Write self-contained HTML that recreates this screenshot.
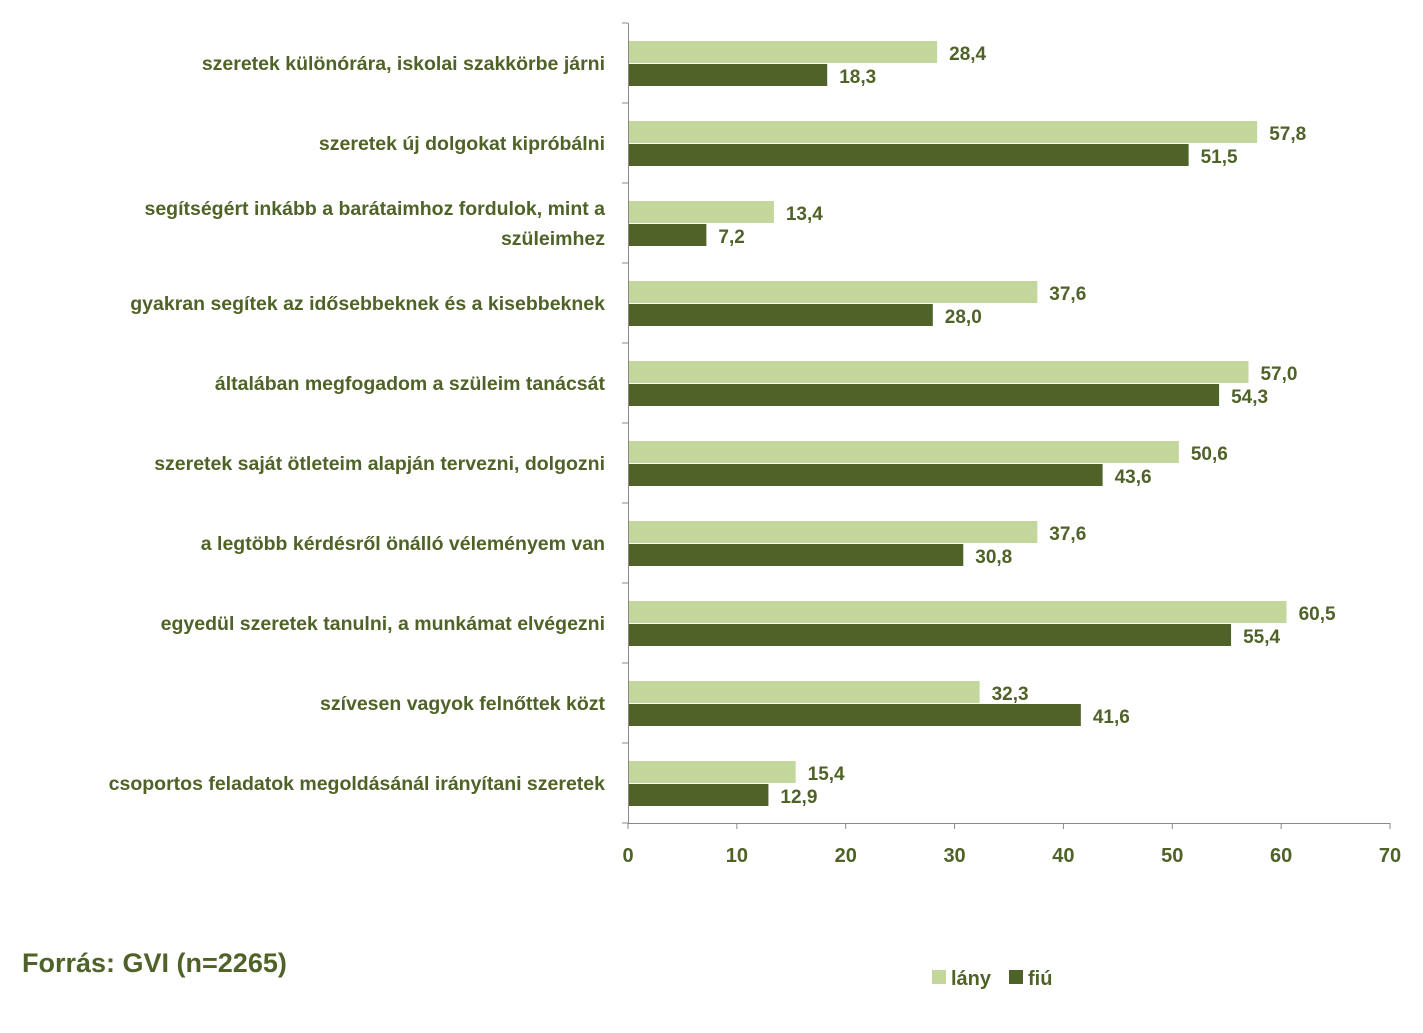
<!DOCTYPE html>
<html><head><meta charset="utf-8"><style>
body{margin:0;background:#fff;}
svg{display:block;font-family:"Liberation Sans",sans-serif;font-weight:bold;}
</style></head><body>
<svg id="chart" width="1423" height="1033">
<text x="22" y="972" font-size="27" fill="#4f6228">Forrás: GVI (n=2265)</text>
<g>
<rect x="932" y="970" width="14" height="14" fill="#c3d69b"></rect>
<text x="951" y="985" font-size="20" fill="#4f6228">lány</text>
<rect x="1009" y="970" width="14" height="14" fill="#4f6228"></rect>
<text x="1028" y="985" font-size="20" fill="#4f6228">fiú</text>
</g>
</svg>
<script>
const categories = [
 ["szeretek különórára, iskolai szakkörbe járni"],
 ["szeretek új dolgokat kipróbálni"],
 ["segítségért inkább a barátaimhoz fordulok, mint a","szüleimhez"],
 ["gyakran segítek az idősebbeknek és a kisebbeknek"],
 ["általában megfogadom a szüleim tanácsát"],
 ["szeretek saját ötleteim alapján tervezni, dolgozni"],
 ["a legtöbb kérdésről önálló véleményem van"],
 ["egyedül szeretek tanulni, a munkámat elvégezni"],
 ["szívesen vagyok felnőttek közt"],
 ["csoportos feladatok megoldásánál irányítani szeretek"]
];
const lany = [28.4,57.8,13.4,37.6,57.0,50.6,37.6,60.5,32.3,15.4];
const fiu = [18.3,51.5,7.2,28.0,54.3,43.6,30.8,55.4,41.6,12.9];
const ticks = [0,10,20,30,40,50,60,70];

const NS="http://www.w3.org/2000/svg";
const svg=document.getElementById('chart');
const x0=628,x1=1390,yTop=23,band=80;
const xs=v=>x0+(v-0)/(70-0)*(x1-x0);
const yb=i=>yTop+i*band;
function el(t,a){const e=document.createElementNS(NS,t);for(const k in a)e.setAttribute(k,a[k]);svg.appendChild(e);return e;}
const C="#4f6228";
categories.forEach((lab,i)=>{
 const y=yb(i);
 const b1=el('rect',{x:x0,y:y+18,width:xs(lany[i])-x0,height:22,fill:'#c3d69b'});
 
 
 const b2=el('rect',{x:x0,y:y+41,width:xs(fiu[i])-x0,height:22,fill:C});
 
 
 const v1=el('text',{x:xs(lany[i])+12,y:y+37,'font-size':19,fill:C});
 v1.textContent=lany[i].toFixed(1).replace('.',',');
 
 
 const v2=el('text',{x:xs(fiu[i])+12,y:y+60,'font-size':19,fill:C});
 v2.textContent=fiu[i].toFixed(1).replace('.',',');
 
 
 const lines=lab;
 lines.forEach((s,j)=>{
  const ty = lines.length===1 ? y+47 : y+32+j*30;
  const t=el('text',{x:605,y:ty,'text-anchor':'end','font-size':19.5,fill:C});
  t.textContent=s;
  
  
 });
 const tk=el('line',{x1:622,x2:628,y1:y,y2:y,stroke:'#888','stroke-width':1});
 
 
});
const yax=el('line',{x1:628.5,x2:628.5,y1:yTop,y2:yTop+10*band,stroke:'#888','stroke-width':1});


const ylast=el('line',{x1:622,x2:628,y1:yTop+10*band,y2:yTop+10*band,stroke:'#888'});


const xax=el('line',{x1:x0,x2:x1,y1:823.5,y2:823.5,stroke:'#888','stroke-width':1});


ticks.forEach(v=>{
 const l=el('line',{x1:xs(v),x2:xs(v),y1:823,y2:829,stroke:'#888'});
 
 
 const t=el('text',{x:xs(v),y:862,'text-anchor':'middle','font-size':20,fill:C});
 t.textContent=v;
 
 
});
</script>
</body></html>
